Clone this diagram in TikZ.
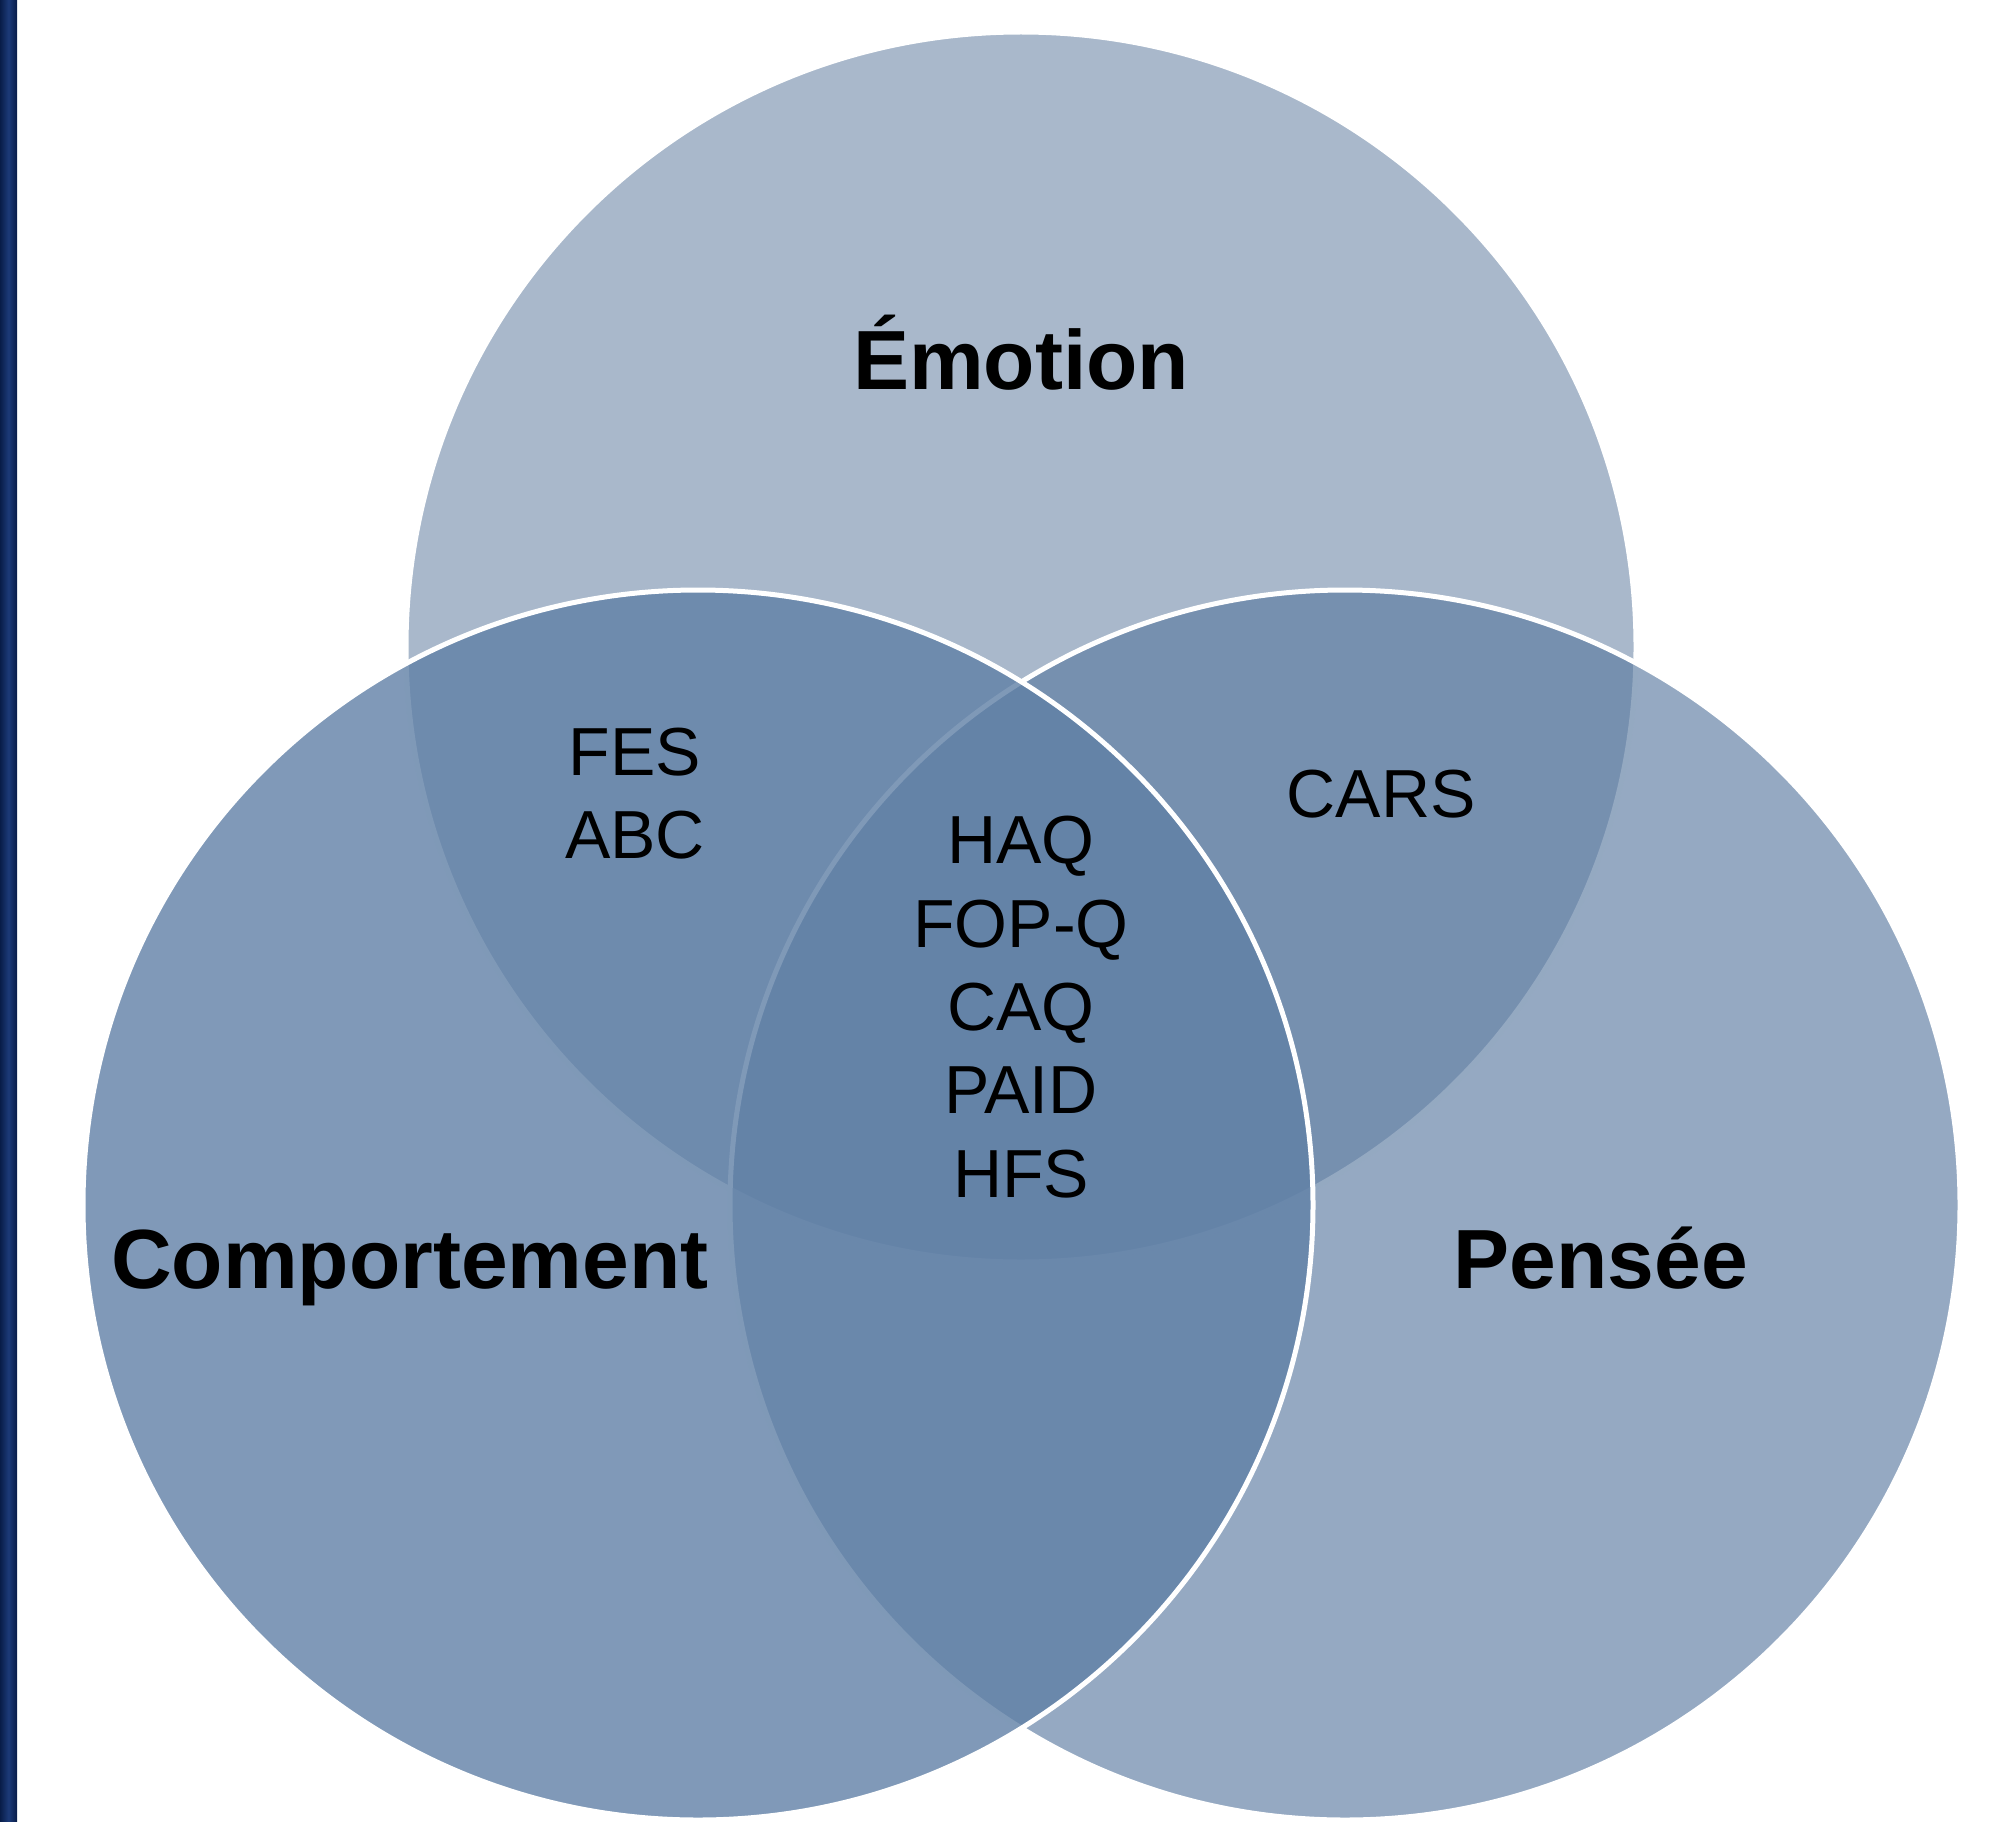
\documentclass[tikz,border=0pt]{standalone}
\usepackage{fontspec}
\setmainfont{Liberation Sans}
\usetikzlibrary{positioning}
\definecolor{emoblue}{RGB}{169,184,203}
\definecolor{penblue}{RGB}{92,123,161}
\definecolor{comblue}{RGB}{96,128,166}
\definecolor{bardark}{RGB}{8,28,72}
\definecolor{barlight}{RGB}{28,58,120}
\tikzset{
  venn/.style={circle, minimum size=1230pt, inner sep=0pt, draw=white, line width=5pt},
  title/.style={anchor=base, font={\fontsize{84pt}{100pt}\selectfont\bfseries}},
  item/.style={anchor=base, font={\fontsize{68pt}{83pt}\selectfont}},
}

\begin{document}
\begin{tikzpicture}[x=1pt,y=-1pt]
  \useasboundingbox (0,0) rectangle (1999,1822);
  % Side bar
  \shade[left color=bardark, right color=bardark, middle color=barlight] (0,0) rectangle (17,1822);

  % Define circles
  \node[venn, fill=emoblue]                   (emo) at (1021,647) {};
  \node[venn, fill=penblue, fill opacity=0.65] (pen) at (1345,1205) {};
  \node[venn, fill=comblue, fill opacity=0.8]  (com) at (698,1205) {};

  % Titles
  \node[title] (emotion) at (1021,389)  {Émotion};
  \node[title] (comport) at (410,1288)  {Comportement};
  \node[title] (pensee)  at (1601,1288) {Pensée};

  % Overlaps
  \node[item] (fes)  at (635,775)  {FES};
  \node[item] (abc)  at (635,858)  {ABC};
  \node[item] (cars) at (1381,817) {CARS};
  \node[item] (haq)  at (1021,863)  {HAQ};
  \node[item] (fopq) at (1021,947)  {FOP-Q};
  \node[item] (caq)  at (1021,1030) {CAQ};
  \node[item] (paid) at (1021,1113) {PAID};
  \node[item] (hfs)  at (1021,1197) {HFS};
\end{tikzpicture}
\end{document}
